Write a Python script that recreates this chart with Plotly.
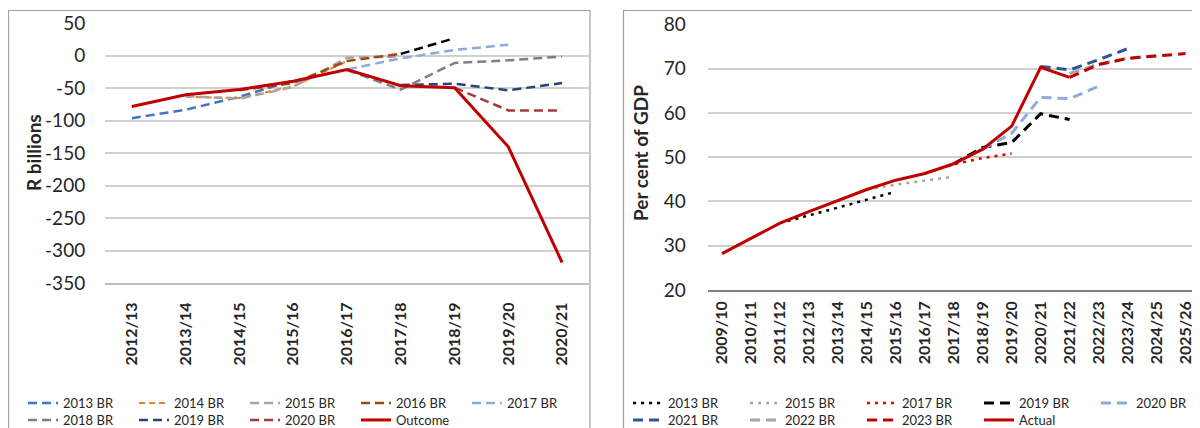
import plotly.graph_objects as go

# ---------------- Left panel data (R billions) ----------------
years_left = ["2012/13", "2013/14", "2014/15", "2015/16", "2016/17",
              "2017/18", "2018/19", "2019/20", "2020/21"]
br2013_left = [-96, -83, -63, -38, None, None, None, None, None]
br2014_left = [None, -63, -65, -47, -8, None, None, None, None]
br2015_left = [None, -62, -66, -48, -3, -1, None, None, None]
br2016_left = [None, None, -53, -42, -8, 3, None, None, None]
br2016_left_ext = [None, None, None, None, None, 3, 27, None, None]
br2017_left = [None, None, None, -40, -21, -4, 9, 17, None]
br2018_left = [None, None, None, None, -22, -52, -11, -7, -1]
br2019_left = [None, None, None, None, None, -45, -43, -53, -42]
br2020_left = [None, None, None, None, None, None, -49, -84, -84]
outcome_left = [-78, -60, -52, -39, -21, -46, -49, -140, -318]
yticks_left = [50, 0, -50, -100, -150, -200, -250, -300, -350]

# ---------------- Right panel data (per cent of GDP) ----------------
years_right = ["2009/10", "2010/11", "2011/12", "2012/13", "2013/14", "2014/15",
               "2015/16", "2016/17", "2017/18", "2018/19", "2019/20", "2020/21",
               "2021/22", "2022/23", "2023/24", "2024/25", "2025/26"]
N = None
br2013_right = [N, N, 35.1, 36.8, 38.6, 40.4, 42.2, N, N, N, N, N, N, N, N, N, N]
br2015_right = [N, N, N, N, N, 42.7, 43.8, 44.7, 45.6, N, N, N, N, N, N, N, N]
br2017_right = [N, N, N, N, N, N, N, 46.3, 48.4, 49.8, 50.8, N, N, N, N, N, N]
br2019_right = [N, N, N, N, N, N, N, N, 48.5, 52.2, 53.3, 59.8, 58.5, N, N, N, N]
br2020_right = [N, N, N, N, N, N, N, N, N, 51.8, 55.4, 63.5, 63.2, 66.0, N, N, N]
br2021_right = [N, N, N, N, N, N, N, N, N, N, N, 70.5, 69.7, 72.0, 74.5, N, N]
br2022_right = [N, N, N, N, N, N, N, N, N, N, N, N, 68.9, 71.0, 72.4, 72.9, N]
br2023_right = [N, N, N, N, N, N, N, N, N, N, N, N, 68.0, 70.9, 72.3, 72.8, 73.4]
actual_right = [28.2, 31.6, 35.1, 37.7, 40.2, 42.7, 44.8, 46.3, 48.5, 51.8, 57.0,
                70.3, 68.0, N, N, N, N]
yticks_right = [20, 30, 40, 50, 60, 70, 80]

# page body has an 8px margin, so the figure is placed at (8, 8) in the window
OFF = 8
W, H = 1200 - OFF, 428 - OFF
FONT = "Lato, Carlito, sans-serif"
TXT = "#262626"


def px_x(v):
    return (v - OFF) / W


def px_y(v):
    return 1 - (v - OFF) / H


fig = go.Figure()


def add(x, y, name, color, width, dash, xa, ya, legend, showlegend=True):
    fig.add_trace(go.Scatter(
        x=x, y=y, name=name, mode="lines", xaxis=xa, yaxis=ya,
        line=dict(color=color, width=width, dash=dash),
        legend=legend, showlegend=showlegend, connectgaps=False,
    ))


D = "9px,5px"
# left row 1
add(years_left, br2013_left, "2013 BR", "#4472C4", 2.5, D, "x", "y", "legend")
add(years_left, br2014_left, "2014 BR", "#ED7D31", 2, "6px,4px", "x", "y", "legend")
add(years_left, br2015_left, "2015 BR", "#A5A5A5", 2.5, D, "x", "y", "legend")
add(years_left, br2016_left, "2016 BR", "#9E480E", 2.5, D, "x", "y", "legend")
add(years_left, br2016_left_ext, "2016 BR", "#000000", 2.5, D, "x", "y", "legend", False)
add(years_left, br2017_left, "2017 BR", "#8FAADC", 2.5, D, "x", "y", "legend")
# left row 2
add(years_left, br2018_left, "2018 BR", "#7F7F7F", 2.5, D, "x", "y", "legend2")
add(years_left, br2019_left, "2019 BR", "#264478", 2.5, D, "x", "y", "legend2")
add(years_left, br2020_left, "2020 BR", "#A33B3B", 2.5, D, "x", "y", "legend2")
add(years_left, outcome_left, "Outcome", "#C00000", 3, "solid", "x", "y", "legend2")

DOT = "3px,5px"
DR = "10px,6px"
# right row 1
add(years_right, br2013_right, "2013 BR", "#000000", 2.5, DOT, "x2", "y2", "legend3")
add(years_right, br2015_right, "2015 BR", "#A6A6A6", 2.5, DOT, "x2", "y2", "legend3")
add(years_right, br2017_right, "2017 BR", "#E00000", 2.5, DOT, "x2", "y2", "legend3")
add(years_right, br2019_right, "2019 BR", "#000000", 3, DR, "x2", "y2", "legend3")
add(years_right, br2020_right, "2020 BR", "#8FAADC", 3, DR, "x2", "y2", "legend3")
# right row 2
add(years_right, br2021_right, "2021 BR", "#2F5597", 3, DR, "x2", "y2", "legend4")
add(years_right, br2022_right, "2022 BR", "#A6A6A6", 3, DR, "x2", "y2", "legend4")
add(years_right, br2023_right, "2023 BR", "#C00000", 3, DR, "x2", "y2", "legend4")
add(years_right, actual_right, "Actual", "#C00000", 3, "solid", "x2", "y2", "legend4")

grid = "#D0D0D0"
tickfont = dict(family=FONT, size=19, color=TXT)
xtickfont = dict(family=FONT, size=16, color=TXT, weight="bold")


def legend_cfg(x_px, y_px, ew):
    return dict(orientation="h", x=px_x(x_px), y=px_y(y_px), xanchor="left",
                yanchor="middle", entrywidth=ew, entrywidthmode="pixels",
                font=dict(family=FONT, size=13, color=TXT),
                bgcolor="rgba(0,0,0,0)", borderwidth=0, itemwidth=30)


fig.update_layout(
    width=W, height=H, margin=dict(l=0, r=0, t=0, b=0, autoexpand=False),
    paper_bgcolor="white", plot_bgcolor="white",
    font=dict(family=FONT, color=TXT),
    xaxis=dict(domain=[px_x(105), px_x(589)], type="category",
               categoryorder="array", categoryarray=years_left,
               range=[-0.5, len(years_left) - 0.5], tickangle=-90,
               tickfont=xtickfont, showgrid=False, showline=True,
               linecolor="#BFBFBF", linewidth=1.5, ticks="outside", ticklen=11,
               tickcolor="rgba(0,0,0,0)", anchor="y", fixedrange=True,
               automargin=False),
    yaxis=dict(domain=[px_y(283.3), px_y(23.3)], range=[-350, 50],
               tickvals=yticks_left, ticktext=[str(v) for v in yticks_left],
               tickfont=tickfont, showgrid=True,
               gridcolor=grid, gridwidth=1.5, zeroline=False, showline=False,
               ticks="outside", ticklen=15, tickcolor="rgba(0,0,0,0)",
               anchor="x", fixedrange=True, automargin=False),
    xaxis2=dict(domain=[px_x(707.5), 1.0], type="category",
                categoryorder="array", categoryarray=years_right,
                range=[-0.5, len(years_right) - 0.5], tickangle=-90,
                tickfont=xtickfont, showgrid=False, showline=True,
                linecolor="#808080", linewidth=1.5, ticks="outside", ticklen=3,
                tickcolor="rgba(0,0,0,0)", anchor="y2", fixedrange=True,
                automargin=False),
    yaxis2=dict(domain=[px_y(290), px_y(24.3)], range=[20, 80],
                tickvals=yticks_right, ticktext=[str(v) for v in yticks_right],
                tickfont=tickfont, showgrid=True,
                gridcolor=grid, gridwidth=1.5, zeroline=False, showline=False,
                ticks="outside", ticklen=17, tickcolor="rgba(0,0,0,0)",
                anchor="x2", fixedrange=True, automargin=False),
    legend=legend_cfg(23, 403, 66),
    legend2=legend_cfg(23, 420, 66),
    legend3=legend_cfg(628, 403, 72),
    legend4=legend_cfg(628, 420, 72),
    showlegend=True,
)

# axis titles
fig.add_annotation(text="<b>R billions</b>", x=px_x(33), y=px_y(153), xref="paper",
                   yref="paper", textangle=-90, showarrow=False,
                   xanchor="center", yanchor="middle",
                   font=dict(family=FONT, size=19, color=TXT))
fig.add_annotation(text="<b>Per cent of GDP</b>", x=px_x(640), y=px_y(153), xref="paper",
                   yref="paper", textangle=-90, showarrow=False,
                   xanchor="center", yanchor="middle",
                   font=dict(family=FONT, size=19, color=TXT))

# panel borders
border = dict(color="#A0A0A0", width=1.2)
fig.add_shape(type="rect", xref="paper", yref="paper", x0=px_x(8.5), x1=px_x(590),
              y0=-0.2, y1=px_y(10.5), line=border, fillcolor="rgba(0,0,0,0)", layer="below")
fig.add_shape(type="rect", xref="paper", yref="paper", x0=px_x(623.5), x1=1.2,
              y0=-0.2, y1=px_y(10.5), line=border, fillcolor="rgba(0,0,0,0)", layer="below")

fig.write_html("out.html")
